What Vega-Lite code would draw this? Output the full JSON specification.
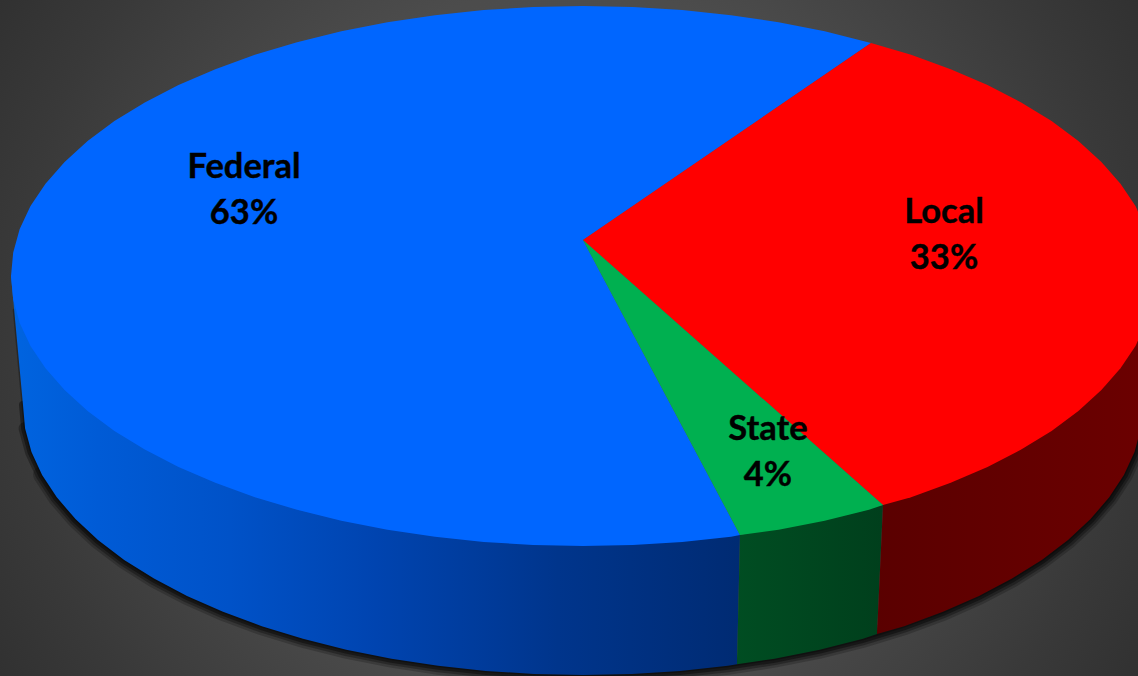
{
"$schema":"https://vega.github.io/schema/vega-lite/v6.json",
"width":1138,"height":676,"padding":0,
"autosize":{"type":"fit","contains":"padding"},
"background":"#333333",
"view":{"stroke":null},
"datasets":{
"rim":[
{"seq":1,"x":14.2,"y":310},{"seq":2,"x":23,"y":405},{"seq":3,"x":25.1,"y":428.5},{"seq":4,"x":31.5,"y":451.9},{"seq":5,"x":42.1,"y":474.9},{"seq":6,"x":56.8,"y":497.3},{"seq":7,"x":75.5,"y":519.1},{"seq":8,"x":98,"y":540},{"seq":9,"x":124.2,"y":559.9},{"seq":10,"x":154,"y":578.6},{"seq":11,"x":187,"y":595.9},{"seq":12,"x":223,"y":611.8},{"seq":13,"x":261.8,"y":626.2},{"seq":14,"x":303,"y":638.8},{"seq":15,"x":346.3,"y":649.7},{"seq":16,"x":391.5,"y":658.7},{"seq":17,"x":438.1,"y":665.8},{"seq":18,"x":485.8,"y":670.9},{"seq":19,"x":534.2,"y":674},{"seq":20,"x":583,"y":675},{"seq":21,"x":631.8,"y":674},{"seq":22,"x":680.2,"y":670.9},{"seq":23,"x":727.9,"y":665.8},{"seq":24,"x":774.5,"y":658.7},{"seq":25,"x":819.7,"y":649.7},{"seq":26,"x":863,"y":638.8},{"seq":27,"x":904.2,"y":626.2},{"seq":28,"x":943,"y":611.8},{"seq":29,"x":979,"y":595.9},{"seq":30,"x":1012,"y":578.6},{"seq":31,"x":1041.8,"y":559.9},{"seq":32,"x":1068,"y":540},{"seq":33,"x":1090.5,"y":519.1},{"seq":34,"x":1109.2,"y":497.3},{"seq":35,"x":1123.9,"y":474.9},{"seq":36,"x":1134.5,"y":451.9},{"seq":37,"x":1140.9,"y":428.5},{"seq":38,"x":1143,"y":405}
],
"sideFederal":[
{"seq":1,"x":11,"y":276},{"seq":2,"x":23,"y":405},{"seq":3,"x":25.1,"y":428.5},{"seq":4,"x":31.5,"y":451.9},{"seq":5,"x":42.1,"y":474.9},{"seq":6,"x":56.8,"y":497.3},{"seq":7,"x":75.5,"y":519.1},{"seq":8,"x":98,"y":540},{"seq":9,"x":124.2,"y":559.9},{"seq":10,"x":154,"y":578.6},{"seq":11,"x":187,"y":595.9},{"seq":12,"x":223,"y":611.8},{"seq":13,"x":261.8,"y":626.2},{"seq":14,"x":303,"y":638.8},{"seq":15,"x":346.3,"y":649.7},{"seq":16,"x":391.5,"y":658.7},{"seq":17,"x":438.1,"y":665.8},{"seq":18,"x":485.8,"y":670.9},{"seq":19,"x":534.2,"y":674},{"seq":20,"x":583,"y":675},{"seq":21,"x":631.8,"y":674},{"seq":22,"x":680.2,"y":670.9},{"seq":23,"x":727.9,"y":665.8},{"seq":24,"x":737,"y":664.3},{"seq":25,"x":740,"y":535}
],
"sideState":[
{"seq":1,"x":740,"y":535},{"seq":2,"x":737,"y":664.3},{"seq":3,"x":774.5,"y":658.7},{"seq":4,"x":819.7,"y":649.7},{"seq":5,"x":863,"y":638.8},{"seq":6,"x":877,"y":634},{"seq":7,"x":883,"y":505}
],
"sideLocal":[
{"seq":1,"x":883,"y":505},{"seq":2,"x":877,"y":634},{"seq":3,"x":904.2,"y":626.2},{"seq":4,"x":943,"y":611.8},{"seq":5,"x":979,"y":595.9},{"seq":6,"x":1012,"y":578.6},{"seq":7,"x":1041.8,"y":559.9},{"seq":8,"x":1068,"y":540},{"seq":9,"x":1090.5,"y":519.1},{"seq":10,"x":1109.2,"y":497.3},{"seq":11,"x":1123.9,"y":474.9},{"seq":12,"x":1134.5,"y":451.9},{"seq":13,"x":1140.9,"y":428.5},{"seq":14,"x":1143,"y":405},{"seq":15,"x":1155,"y":276}
],
"top":[
{"slice":"Federal","seq":1,"x":583,"y":240},{"slice":"Federal","seq":2,"x":740,"y":535},{"slice":"Federal","seq":3,"x":731,"y":536.8},{"slice":"Federal","seq":4,"x":682.3,"y":541.9},{"slice":"Federal","seq":5,"x":632.9,"y":545},{"slice":"Federal","seq":6,"x":583,"y":546},{"slice":"Federal","seq":7,"x":533.1,"y":545},{"slice":"Federal","seq":8,"x":483.7,"y":541.9},{"slice":"Federal","seq":9,"x":435,"y":536.8},{"slice":"Federal","seq":10,"x":387.4,"y":529.7},{"slice":"Federal","seq":11,"x":341.3,"y":520.7},{"slice":"Federal","seq":12,"x":297,"y":509.8},{"slice":"Federal","seq":13,"x":254.9,"y":497.2},{"slice":"Federal","seq":14,"x":215.3,"y":482.8},{"slice":"Federal","seq":15,"x":178.5,"y":466.9},{"slice":"Federal","seq":16,"x":144.8,"y":449.6},{"slice":"Federal","seq":17,"x":114.4,"y":430.9},{"slice":"Federal","seq":18,"x":87.6,"y":411},{"slice":"Federal","seq":19,"x":64.6,"y":390.1},{"slice":"Federal","seq":20,"x":45.5,"y":368.3},{"slice":"Federal","seq":21,"x":30.5,"y":345.9},{"slice":"Federal","seq":22,"x":19.7,"y":322.9},{"slice":"Federal","seq":23,"x":13.2,"y":299.5},{"slice":"Federal","seq":24,"x":11,"y":276},{"slice":"Federal","seq":25,"x":13.2,"y":252.5},{"slice":"Federal","seq":26,"x":19.7,"y":229.1},{"slice":"Federal","seq":27,"x":30.5,"y":206.1},{"slice":"Federal","seq":28,"x":45.5,"y":183.7},{"slice":"Federal","seq":29,"x":64.6,"y":161.9},{"slice":"Federal","seq":30,"x":87.6,"y":141},{"slice":"Federal","seq":31,"x":114.4,"y":121.1},{"slice":"Federal","seq":32,"x":144.8,"y":102.4},{"slice":"Federal","seq":33,"x":178.5,"y":85.1},{"slice":"Federal","seq":34,"x":215.3,"y":69.2},{"slice":"Federal","seq":35,"x":254.9,"y":54.8},{"slice":"Federal","seq":36,"x":297,"y":42.2},{"slice":"Federal","seq":37,"x":341.3,"y":31.3},{"slice":"Federal","seq":38,"x":387.4,"y":22.3},{"slice":"Federal","seq":39,"x":435,"y":15.2},{"slice":"Federal","seq":40,"x":483.7,"y":10.1},{"slice":"Federal","seq":41,"x":533.1,"y":7},{"slice":"Federal","seq":42,"x":583,"y":6},{"slice":"Federal","seq":43,"x":632.9,"y":7},{"slice":"Federal","seq":44,"x":682.3,"y":10.1},{"slice":"Federal","seq":45,"x":731,"y":15.2},{"slice":"Federal","seq":46,"x":778.6,"y":22.3},{"slice":"Federal","seq":47,"x":824.7,"y":31.3},{"slice":"Federal","seq":48,"x":871,"y":43},
{"slice":"Local","seq":1,"x":583,"y":240},{"slice":"Local","seq":2,"x":871,"y":43},{"slice":"Local","seq":3,"x":911.1,"y":54.8},{"slice":"Local","seq":4,"x":950.7,"y":69.2},{"slice":"Local","seq":5,"x":987.5,"y":85.1},{"slice":"Local","seq":6,"x":1021.2,"y":102.4},{"slice":"Local","seq":7,"x":1051.6,"y":121.1},{"slice":"Local","seq":8,"x":1078.4,"y":141},{"slice":"Local","seq":9,"x":1101.4,"y":161.9},{"slice":"Local","seq":10,"x":1120.5,"y":183.7},{"slice":"Local","seq":11,"x":1135.5,"y":206.1},{"slice":"Local","seq":12,"x":1146.3,"y":229.1},{"slice":"Local","seq":13,"x":1152.8,"y":252.5},{"slice":"Local","seq":14,"x":1155,"y":276},{"slice":"Local","seq":15,"x":1152.8,"y":299.5},{"slice":"Local","seq":16,"x":1146.3,"y":322.9},{"slice":"Local","seq":17,"x":1135.5,"y":345.9},{"slice":"Local","seq":18,"x":1120.5,"y":368.3},{"slice":"Local","seq":19,"x":1101.4,"y":390.1},{"slice":"Local","seq":20,"x":1078.4,"y":411},{"slice":"Local","seq":21,"x":1051.6,"y":430.9},{"slice":"Local","seq":22,"x":1021.2,"y":449.6},{"slice":"Local","seq":23,"x":987.5,"y":466.9},{"slice":"Local","seq":24,"x":950.7,"y":482.8},{"slice":"Local","seq":25,"x":911.1,"y":497.2},{"slice":"Local","seq":26,"x":883,"y":505},
{"slice":"State","seq":1,"x":583,"y":240},{"slice":"State","seq":2,"x":883,"y":505},{"slice":"State","seq":3,"x":869,"y":509.8},{"slice":"State","seq":4,"x":824.7,"y":520.7},{"slice":"State","seq":5,"x":778.6,"y":529.7},{"slice":"State","seq":6,"x":740,"y":535}
],
"labels":[
{"name":"Federal","share":"63%","x":244,"y":190},
{"name":"Local","share":"33%","x":944,"y":235},
{"name":"State","share":"4%","x":768,"y":452}
]
},
"layer":[
{
"data":{"values":[{}]},
"mark":{"type":"rect","clip":true,"color":{"gradient":"radial","x1":0.5,"y1":0.5,"r1":0,"x2":0.5,"y2":0.5,"r2":0.5,"stops":[{"offset":0,"color":"#525252"},{"offset":0.5,"color":"#4c4c4c"},{"offset":0.8,"color":"#393939"},{"offset":1,"color":"#2e2e2e"}]}},
"encoding":{
"x":{"datum":-131,"type":"quantitative","scale":{"domain":[0,1138],"nice":false,"zero":false},"axis":null},
"x2":{"datum":1269},
"y":{"datum":-362,"type":"quantitative","scale":{"domain":[676,0],"nice":false,"zero":false},"axis":null},
"y2":{"datum":1038}
}
},
{
"encoding":{
"x":{"field":"x","type":"quantitative","scale":{"domain":[0,1138],"nice":false,"zero":false},"axis":null},
"y":{"field":"y","type":"quantitative","scale":{"domain":[676,0],"nice":false,"zero":false},"axis":null},
"order":{"field":"seq","type":"quantitative"}
},
"layer":[
{"data":{"name":"rim"},"transform":[{"filter":"datum.seq>=5"}],"mark":{"type":"line","clip":true,"color":"#000000","opacity":0.2,"strokeWidth":18,"strokeCap":"round"}},
{"data":{"name":"rim"},"transform":[{"filter":"datum.seq>=3"}],"mark":{"type":"line","clip":true,"color":"#000000","opacity":0.3,"strokeWidth":13,"strokeCap":"round"}},
{"data":{"name":"rim"},"transform":[{"filter":"datum.seq>=2"}],"mark":{"type":"line","clip":true,"color":"#000000","opacity":0.4,"strokeWidth":8,"strokeCap":"round"}},
{"data":{"name":"rim"},"mark":{"type":"line","clip":true,"color":"#000000","opacity":0.3,"strokeWidth":3,"strokeCap":"round"}},
{"data":{"name":"sideFederal"},"mark":{"type":"line","filled":true,"clip":true,"color":{"gradient":"linear","x1":0,"y1":0,"x2":1,"y2":0,"stops":[{"offset":0,"color":"#0064e0"},{"offset":0.12,"color":"#005bd6"},{"offset":0.3,"color":"#0052c8"},{"offset":0.5,"color":"#0044b0"},{"offset":0.75,"color":"#00358c"},{"offset":1,"color":"#002b73"}]}}},
{"data":{"name":"sideState"},"mark":{"type":"line","filled":true,"clip":true,"color":{"gradient":"linear","x1":0,"y1":0,"x2":1,"y2":0,"stops":[{"offset":0,"color":"#004d22"},{"offset":1,"color":"#003f1c"}]}}},
{"data":{"name":"sideLocal"},"mark":{"type":"line","filled":true,"clip":true,"color":{"gradient":"linear","x1":0,"y1":0,"x2":1,"y2":0,"stops":[{"offset":0,"color":"#5a0000"},{"offset":1,"color":"#6c0000"}]}}},
{"data":{"name":"top"},"mark":{"type":"line","filled":true,"clip":true},
"encoding":{"color":{"field":"slice","type":"nominal","legend":null,"scale":{"domain":["Federal","Local","State"],"range":["#0066ff","#ff0000","#00b050"]}}}}
]
},
{
"data":{"name":"labels"},
"mark":{"type":"text","font":"Lato","fontWeight":"bold","fontSize":34.5,"color":"#000000","stroke":"#000000","strokeWidth":0.4,"dy":-22,"baseline":"middle"},
"encoding":{
"x":{"field":"x","type":"quantitative","scale":{"domain":[0,1138],"nice":false,"zero":false},"axis":null},
"y":{"field":"y","type":"quantitative","scale":{"domain":[676,0],"nice":false,"zero":false},"axis":null},
"text":{"field":"name"}
}
},
{
"data":{"name":"labels"},
"mark":{"type":"text","font":"Lato","fontWeight":"bold","fontSize":34.5,"color":"#000000","stroke":"#000000","strokeWidth":0.4,"dy":24,"baseline":"middle"},
"encoding":{
"x":{"field":"x","type":"quantitative","scale":{"domain":[0,1138],"nice":false,"zero":false},"axis":null},
"y":{"field":"y","type":"quantitative","scale":{"domain":[676,0],"nice":false,"zero":false},"axis":null},
"text":{"field":"share"}
}
}
]
}
